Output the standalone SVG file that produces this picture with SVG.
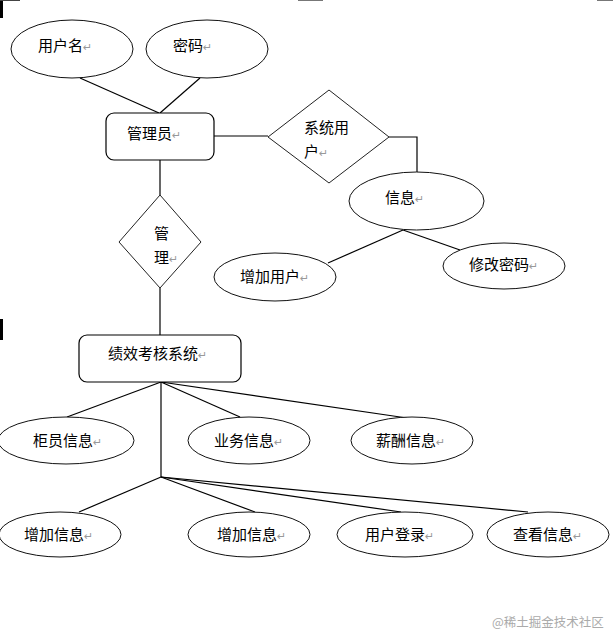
<svg xmlns="http://www.w3.org/2000/svg" width="613" height="632" viewBox="0 0 613 632">
<style>
.ent{fill:#fff;stroke:#000;stroke-width:1.2}
.att{fill:#fff;stroke:#111;stroke-width:1}
.rel{fill:#fff;stroke:#222;stroke-width:1}
.lbl{font-family:"Noto Sans CJK SC","Noto Sans",sans-serif;font-size:15px;fill:#000}
.ret{font-family:"DejaVu Sans",sans-serif;font-size:11px;fill:#999}
#connectors line,#connectors polyline{stroke:#000;stroke-width:1.2;fill:none}
</style>
<rect width="613" height="632" fill="#fff"/>
<g id="marks">
<rect x="0" y="0" width="3" height="18" fill="#000"/>
<rect x="0" y="0" width="20" height="1" fill="#444"/>
<rect x="298" y="0" width="25" height="1" fill="#777"/>
<rect x="597" y="0" width="16" height="1" fill="#777"/>
<rect x="0" y="319" width="3" height="21" fill="#000"/>
</g>
<g id="connectors">
<line x1="80" y1="78" x2="159" y2="113"/>
<line x1="200" y1="78" x2="160" y2="113"/>
<line x1="214" y1="136" x2="268" y2="136"/>
<polyline points="389,137 417,137 417,172"/>
<line x1="403" y1="230" x2="328" y2="263"/>
<line x1="403" y1="230" x2="460" y2="250"/>
<line x1="160" y1="160" x2="160" y2="195"/>
<line x1="160" y1="288" x2="160" y2="335"/>
<line x1="161" y1="382" x2="161" y2="477"/>
<line x1="161" y1="382" x2="67" y2="417"/>
<line x1="161" y1="382" x2="240" y2="417"/>
<line x1="161" y1="382" x2="407" y2="418"/>
<line x1="161" y1="477" x2="79" y2="512"/>
<line x1="161" y1="477" x2="255" y2="512"/>
<line x1="161" y1="477" x2="401" y2="512"/>
<line x1="161" y1="477" x2="528" y2="512"/>
</g>
<g id="username">
<ellipse class="att" cx="72" cy="49" rx="61" ry="29"/>
<text class="lbl" x="38" y="51">用户名<tspan class="ret">↵</tspan></text>
</g>
<g id="password">
<ellipse class="att" cx="207" cy="49" rx="61" ry="29"/>
<text class="lbl" x="173" y="51">密码<tspan class="ret">↵</tspan></text>
</g>
<g id="admin">
<rect class="ent" x="106" y="113" width="108" height="47" rx="8"/>
<text class="lbl" x="127" y="139">管理员<tspan class="ret">↵</tspan></text>
</g>
<g id="sysuser">
<polygon class="rel" points="268,137 329,90 389,137 329,183"/>
<text class="lbl" x="304" y="133">系统用</text>
<text class="lbl" x="304" y="157">户<tspan class="ret">↵</tspan></text>
</g>
<g id="info">
<ellipse class="att" cx="416.5" cy="201" rx="67.5" ry="29"/>
<text class="lbl" x="385" y="203">信息<tspan class="ret">↵</tspan></text>
</g>
<g id="adduser">
<ellipse class="att" cx="275" cy="277" rx="61" ry="24"/>
<text class="lbl" x="240" y="282">增加用户<tspan class="ret">↵</tspan></text>
</g>
<g id="changepwd">
<ellipse class="att" cx="504" cy="266" rx="61" ry="23"/>
<text class="lbl" x="469" y="270">修改密码<tspan class="ret">↵</tspan></text>
</g>
<g id="manage">
<polygon class="rel" points="119,242 160,195 201,242 160,288"/>
<text class="lbl" x="154" y="239">管</text>
<text class="lbl" x="154" y="263">理<tspan class="ret">↵</tspan></text>
</g>
<g id="system">
<rect class="ent" x="79" y="335" width="162" height="47" rx="8"/>
<text class="lbl" x="108" y="359">绩效考核系统<tspan class="ret">↵</tspan></text>
</g>
<g id="teller">
<ellipse class="att" cx="66" cy="440.5" rx="68" ry="23.5"/>
<text class="lbl" x="33" y="446">柜员信息<tspan class="ret">↵</tspan></text>
</g>
<g id="business">
<ellipse class="att" cx="249" cy="440.5" rx="61" ry="23.5"/>
<text class="lbl" x="214" y="446">业务信息<tspan class="ret">↵</tspan></text>
</g>
<g id="salary">
<ellipse class="att" cx="412" cy="440.5" rx="61" ry="23.5"/>
<text class="lbl" x="376" y="446">薪酬信息<tspan class="ret">↵</tspan></text>
</g>
<g id="addinfo1">
<ellipse class="att" cx="60" cy="534.5" rx="61" ry="22.5"/>
<text class="lbl" x="24" y="540">增加信息<tspan class="ret">↵</tspan></text>
</g>
<g id="addinfo2">
<ellipse class="att" cx="249" cy="534.5" rx="61" ry="22.5"/>
<text class="lbl" x="217" y="540">增加信息<tspan class="ret">↵</tspan></text>
</g>
<g id="login">
<ellipse class="att" cx="405" cy="534.5" rx="68" ry="22.5"/>
<text class="lbl" x="365" y="540">用户登录<tspan class="ret">↵</tspan></text>
</g>
<g id="view">
<ellipse class="att" cx="548" cy="534.5" rx="61" ry="22.5"/>
<text class="lbl" x="513" y="540">查看信息<tspan class="ret">↵</tspan></text>
</g>
<text x="492" y="627" font-family="Noto Sans CJK SC, sans-serif" font-size="12.5" fill="#aaa">@稀土掘金技术社区</text>
</svg>
